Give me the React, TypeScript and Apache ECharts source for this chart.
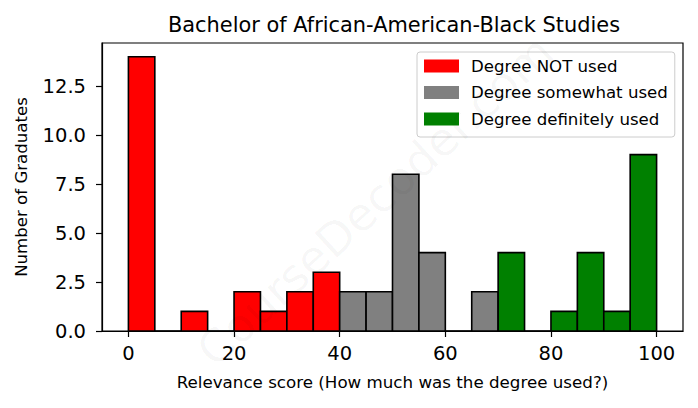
import React, { useEffect, useRef } from 'react';
import * as echarts from 'echarts';

const titleText = 'Bachelor of African-American-Black Studies';
const xAxisName = 'Relevance score (How much was the degree used?)';
const yAxisName = 'Number of Graduates';
const watermarkText = 'CourseDecoder.com';
const seriesNames = ['Degree NOT used', 'Degree somewhat used', 'Degree definitely used'];
const seriesColors = ['#ff0000', '#808080', '#008000'];

const notUsedEdges = [0, 5, 10, 15, 20, 25, 30, 35, 40];
const notUsedCounts = [14, 0, 1, 0, 2, 1, 2, 3];
const somewhatEdges = [40, 45, 50, 55, 60, 65, 70];
const somewhatCounts = [2, 2, 8, 4, 0, 2];
const definitelyEdges = [70, 75, 80, 85, 90, 95, 100];
const definitelyCounts = [4, 0, 1, 4, 1, 9];

const xTicks = [0, 20, 40, 60, 80, 100];
const yTicks = [0, 2.5, 5, 7.5, 10, 12.5];

const FONT = 'DejaVu Sans';

function toBins(edges: number[], counts: number[]) {
  return counts.map((c, i) => [edges[i], edges[i + 1], c]);
}

function makeSeries(name: string, color: string, data: number[][]) {
  return {
    type: 'custom',
    name,
    itemStyle: { color },
    encode: { x: [0, 1], y: 2 },
    data,
    renderItem: (_params: any, api: any) => {
      const x0 = api.value(0);
      const x1 = api.value(1);
      const v = api.value(2);
      const p0 = api.coord([x0, v]);
      const p1 = api.coord([x1, 0]);
      return {
        type: 'rect',
        shape: { x: p0[0], y: p0[1], width: p1[0] - p0[0], height: p1[1] - p0[1] },
        style: { fill: color, stroke: '#000', lineWidth: 1.6 },
      };
    },
  };
}

export default function App() {
  const ref = useRef<HTMLDivElement>(null);
  useEffect(() => {
    document.body.style.margin = '0';
    if (!ref.current) return;
    const chart = echarts.init(ref.current, null, { renderer: 'svg' });
    const option: any = {
      animation: false,
      backgroundColor: '#fff',
      title: {
        text: titleText,
        left: 389,
        top: 9,
        textAlign: 'center',
        textStyle: { fontFamily: FONT, fontSize: 20.9, fontWeight: 'normal', color: '#000' },
      },
      grid: {
        left: 102,
        right: 15,
        top: 43,
        bottom: 77,
        show: true,
        borderColor: '#000',
        borderWidth: 1.2,
        backgroundColor: 'transparent',
      },
      legend: {
        orient: 'vertical',
        left: 417,
        top: 52,
        data: seriesNames,
        icon: 'rect',
        itemWidth: 35,
        itemHeight: 13,
        itemGap: 6.5,
        padding: [4, 7, 8, 7],
        borderColor: '#cccccc',
        borderWidth: 1,
        borderRadius: 3,
        backgroundColor: '#fff',
        itemStyle: { borderWidth: 0 },
        textStyle: {
          fontFamily: FONT,
          fontSize: 16.6,
          color: '#000',
          lineHeight: 20,
          padding: [0, 0, 0, 7],
        },
      },
      xAxis: {
        type: 'value',
        min: -5,
        max: 105,
        name: xAxisName,
        nameLocation: 'middle',
        nameGap: 42,
        nameTextStyle: { fontFamily: FONT, fontSize: 16.7, color: '#000' },
        axisLine: { show: true, onZero: false, lineStyle: { color: '#000', width: 1.2 } },
        axisTick: { show: true, length: 6, lineStyle: { color: '#000', width: 1.2 }, customValues: xTicks },
        axisLabel: { fontFamily: FONT, fontSize: 19.5, color: '#000', margin: 12, customValues: xTicks },
        splitLine: { show: false },
      },
      yAxis: {
        type: 'value',
        min: 0,
        max: 14.7,
        name: yAxisName,
        nameLocation: 'middle',
        nameGap: 72,
        nameRotate: 90,
        nameTextStyle: { fontFamily: FONT, fontSize: 16.6, color: '#000' },
        axisLine: { show: true, onZero: false, lineStyle: { color: '#000', width: 1.2 } },
        axisTick: { show: true, length: 6, lineStyle: { color: '#000', width: 1.2 }, customValues: yTicks },
        axisLabel: {
          fontFamily: FONT,
          fontSize: 19.5,
          color: '#000',
          margin: 16,
          customValues: yTicks,
          formatter: (v: number) => v.toFixed(1),
        },
        splitLine: { show: false },
      },
      graphic: [
        {
          type: 'text',
          x: 375,
          y: 201,
          rotation: (42.5 * Math.PI) / 180,
          z: 100,
          silent: true,
          style: {
            text: watermarkText,
            fontFamily: FONT,
            fontSize: 46,
            fill: 'rgba(0,0,0,0.035)',
            textAlign: 'center',
            textVerticalAlign: 'middle',
          },
        },
      ],
      series: [
        makeSeries(seriesNames[0], seriesColors[0], toBins(notUsedEdges, notUsedCounts)),
        makeSeries(seriesNames[1], seriesColors[1], toBins(somewhatEdges, somewhatCounts)),
        makeSeries(seriesNames[2], seriesColors[2], toBins(definitelyEdges, definitelyCounts)),
      ],
    };
    chart.setOption(option);
    return () => chart.dispose();
  }, []);
  return <div ref={ref} style={{ width: 698, height: 408 }} />;
}
